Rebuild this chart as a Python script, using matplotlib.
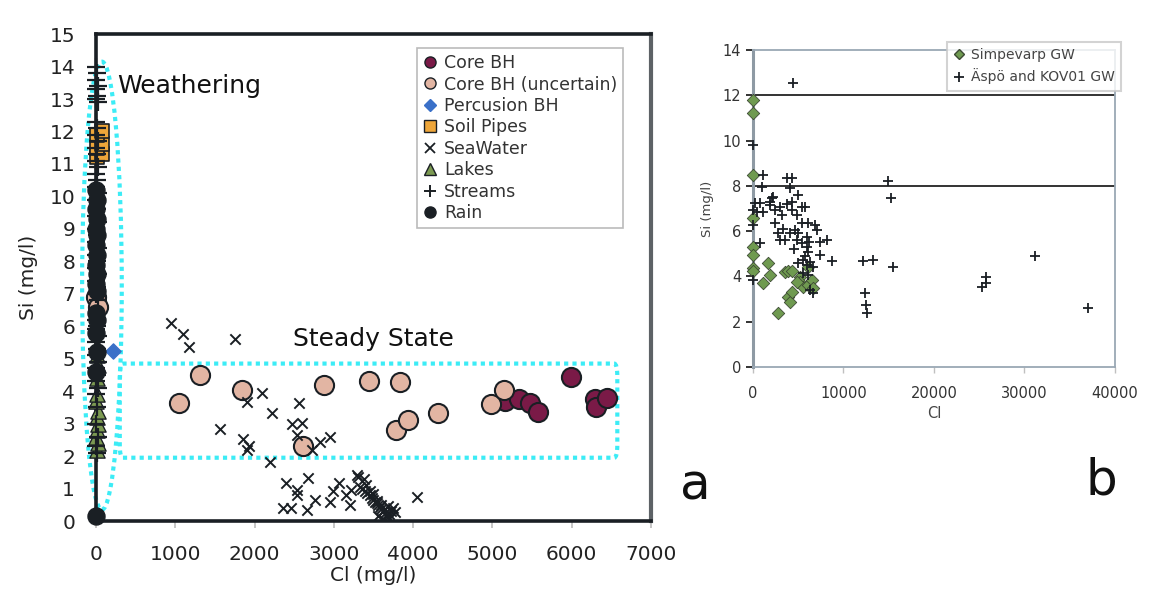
import numpy as np
import matplotlib
matplotlib.use("Agg")
import matplotlib.pyplot as plt
from matplotlib.patches import Ellipse, FancyBboxPatch
from matplotlib.lines import Line2D

# ---------------- panel a data ----------------
core_cl = [5160, 5330, 5480, 5580, 5990, 6290, 6310, 6440]
core_si = [3.70, 3.75, 3.65, 3.35, 4.45, 3.75, 3.50, 3.80]

coreu_cl = [1050, 1310, 1840, 2880, 3440, 3830, 2610, 3780, 3930, 4310, 4980, 5140, 0, 20]
coreu_si = [3.65, 4.50, 4.05, 4.20, 4.30, 4.28, 2.32, 2.80, 3.10, 3.32, 3.60, 4.05, 6.9, 6.6]

perc_cl = [210]
perc_si = [5.25]

soil_cl = [10, 70, 10, 70, 10, 70]
soil_si = [11.2, 11.3, 11.5, 11.6, 11.9, 12.0]

sea_cl = [950, 1100, 1170, 1750, 1560, 1860, 1910, 1930, 2100, 1910, 2220, 2560, 2470,
          2600, 2530, 2730, 2820, 2950, 2200,
          2400, 2530, 2670, 2540, 2360, 2460, 2660, 2760, 2950, 3070, 3200, 3300,
          3290, 3220, 3330, 3360, 3390, 3420, 3450, 3480, 3500, 3520, 3540, 3560, 3580,
          3600, 3620, 3640, 3660, 3680, 3700, 3720, 3650, 3600, 3550, 3500, 3450, 3400,
          3380, 3700, 3560, 3620, 3770, 4050, 3150, 2990, 3740, 3680]
sea_si = [6.10, 5.77, 5.37, 5.60, 2.84, 2.53, 2.19, 2.30, 3.95, 3.67, 3.33, 3.64, 2.99,
          3.02, 2.65, 2.19, 2.44, 2.60, 1.82,
          1.17, 0.96, 1.33, 0.80, 0.40, 0.40, 0.34, 0.65, 0.59, 1.17, 0.50, 1.36,
          1.42, 0.96, 1.05, 1.00, 0.92, 0.85, 0.80, 0.72, 0.66, 0.60, 0.55, 0.48, 0.42,
          0.36, 0.30, 0.24, 0.18, 0.12, 0.22, 0.30, 0.38, 0.48, 0.62, 0.82, 0.92, 1.10,
          1.28, 0.05, 0.16, 0.06, 0.28, 0.74, 0.80, 0.92, 0.40, 0.45]

lakes_cl = [10, 20, 5, 15, 25, 10, 20, 5, 15, 10, 20, 10, 15]
lakes_si = [2.2, 2.4, 2.6, 2.8, 3.0, 3.2, 3.4, 3.7, 3.9, 4.4, 4.8, 5.1, 5.4]

streams_cl = [0, 10, 0, 20, 0, 10, 0, 20, 0, 10, 0, 20, 0, 10, 0, 20, 0, 10, 0, 20,
              0, 10, 0, 20, 0, 10, 0, 20, 0, 10, 0, 20, 0, 10, 0, 20, 0, 10, 0, 20,
              0, 10, 0, 20, 0, 10, 0, 20, 0, 10, 0, 20, 0, 10]
streams_si = [14.0, 13.8, 13.6, 13.4, 13.3, 13.1, 13.0, 12.9, 12.3, 12.1, 11.9, 11.7,
              11.5, 11.3, 11.1, 10.9, 10.7, 10.5, 10.3, 10.1, 9.9, 9.6, 9.4, 9.2, 9.0,
              8.8, 8.6, 8.4, 8.2, 8.0, 7.8, 7.6, 7.4, 7.2, 7.0, 6.8, 6.2, 6.0, 5.9, 5.7,
              5.5, 5.3, 5.1, 4.9, 4.7, 4.5, 4.3, 4.1, 3.9, 3.5, 3.0, 2.6, 2.3, 2.1]

rain_cl = [0, 10, 0, 10, 0, 10, 0, 10, 0, 10, 0, 10, 0, 10, 0, 10, 0, 0]
rain_si = [10.2, 9.9, 9.6, 9.3, 9.0, 8.8, 8.5, 8.2, 7.9, 7.6, 7.3, 7.1, 6.4, 6.2, 5.8,
           5.2, 4.6, 0.15]

# ---------------- panel b data ----------------
simp_cl = [0, 0, 0, 0, 0, 0, 0, 0, 1100, 1660, 1880, 2760, 3540, 3870, 4310, 3870,
           4090, 4310, 5190, 5190, 5520, 6080, 6520, 6630, 6080, 4860]
simp_si = [11.8, 11.2, 8.5, 6.6, 5.3, 4.95, 4.37, 4.25, 3.7, 4.6, 4.06, 2.38, 4.2, 4.25,
           4.25, 3.1, 2.87, 3.33, 3.98, 3.76, 3.55, 3.62, 3.85, 3.48, 4.4, 3.76]

aspo_cl = [4420, 14920, 15250, 8730, 12150, 13260, 15470, 12380, 12490, 12600, 25300,
           25750, 25700, 31160, 37020,
           0, 1100, 990, 3760, 4300, 4090, 4970, 2100, 770, 1880, 2210, 4310, 5410,
           400, 1100, 1880, 2430, 2990, 3200, 3760, 4310, 4860, 5750, 5410, 6080, 6850,
           7070, 2430, 2760, 2990, 3540, 4090, 4640, 4860, 5410, 5970, 5970, 6080, 6300,
           5970, 7400, 8180, 7400, 6630, 5520, 4970, 5520, 6080, 6630, 6300, 770, 0, 0,
           0, 220, 3300, 5000, 6200, 4500, 5800]
aspo_si = [12.55, 8.2, 7.45, 4.68, 4.68, 4.73, 4.43, 3.27, 2.74, 2.40, 3.55,
           3.96, 3.70, 4.90, 2.60,
           9.8, 8.5, 7.95, 8.35, 8.35, 7.9, 7.6, 7.45, 7.24, 7.29, 7.5, 7.29, 7.07,
           6.85, 6.85, 7.15, 6.95, 7.07, 6.7, 7.2, 6.95, 6.7, 7.07, 6.35, 6.35, 6.27,
           6.05, 6.35, 5.9, 5.6, 5.6, 5.9, 6.05, 5.6, 5.47, 5.74, 5.3, 5.08, 4.64,
           4.5, 5.52, 5.6, 4.95, 4.42, 4.73, 4.6, 4.15, 4.06, 3.27, 3.4, 5.47, 3.84, 6.27,
           6.93, 7.24, 6.1, 5.9, 5.5, 5.2, 4.9]

cyan = "#3cecf6"
dark = "#1a1f24"

fig = plt.figure(figsize=(11.51, 5.96), dpi=100)

# ================= panel a =================
ax = fig.add_axes([0.0834, 0.1258, 0.4822, 0.817])
ax.set_xlim(0, 7000)
ax.set_ylim(0, 15)

ax.scatter(core_cl, core_si, s=190, c="#7a1a47", edgecolors=dark, linewidths=1.5, zorder=3)
ax.scatter(coreu_cl, coreu_si, s=190, c="#e2b5a3", edgecolors=dark, linewidths=1.5,
           zorder=3, clip_on=False)
ax.scatter(perc_cl, perc_si, s=60, marker="D", c="#3a70c8", edgecolors="#3a70c8",
           zorder=4, clip_on=False)
ax.scatter(soil_cl, soil_si, s=110, marker="s", c="#eea63a", edgecolors=dark,
           linewidths=1.2, zorder=4, clip_on=False)
ax.scatter(sea_cl, sea_si, s=55, marker="x", c=dark, linewidths=1.4, zorder=5)
ax.scatter(lakes_cl, lakes_si, s=120, marker="^", c="#7c9a52", edgecolors=dark,
           linewidths=1.0, zorder=5, clip_on=False)
ax.scatter(streams_cl, streams_si, s=150, marker="+", c=dark, linewidths=1.6, zorder=6,
           clip_on=False)
ax.scatter(rain_cl, rain_si, s=150, c=dark, edgecolors=dark, zorder=7, clip_on=False)

ax.add_patch(Ellipse((75, 7.25), 500, 13.8, fill=False, edgecolor=cyan, lw=3,
                     linestyle=(0, (1, 1)), clip_on=False, zorder=2))
ax.add_patch(FancyBboxPatch((300, 1.95), 6275, 2.9, boxstyle="round,pad=0,rounding_size=40",
                            fill=False, edgecolor=cyan, lw=3, linestyle=(0, (1, 1)),
                            mutation_aspect=0.01, zorder=2))

ax.text(265, 13.4, "Weathering", fontsize=18, va="center", ha="left", color="#111111")
ax.text(2485, 5.6, "Steady State", fontsize=18, va="center", ha="left", color="#111111")

ax.set_xticks(np.arange(0, 7001, 1000))
ax.set_yticks(np.arange(0, 16, 1))
ax.tick_params(axis="y", length=0, labelsize=14.5, pad=15, labelcolor="#222222")
ax.tick_params(axis="x", length=5, width=1.2, color="#bbbbbb", labelsize=14.5, pad=12,
               labelcolor="#222222")
for side in ["top", "bottom", "left"]:
    ax.spines[side].set_linewidth(2.6)
    ax.spines[side].set_color(dark)
ax.spines["right"].set_linewidth(3)
ax.spines["right"].set_color("#5d6266")
ax.set_xlabel("Cl (mg/l)", fontsize=14.5, color="#222222", labelpad=2)
ax.set_ylabel("Si (mg/l)", fontsize=14.5, color="#222222", labelpad=8)

handles = [
    Line2D([], [], ls="", marker="o", ms=8, mfc="#7a1a47", mec=dark),
    Line2D([], [], ls="", marker="o", ms=8, mfc="#e2b5a3", mec=dark),
    Line2D([], [], ls="", marker="D", ms=6, mfc="#3a70c8", mec="#3a70c8"),
    Line2D([], [], ls="", marker="s", ms=8, mfc="#eea63a", mec=dark),
    Line2D([], [], ls="", marker="x", ms=7, color=dark, mew=1.3),
    Line2D([], [], ls="", marker="^", ms=8, mfc="#7c9a52", mec=dark),
    Line2D([], [], ls="", marker="+", ms=9, color=dark, mew=1.4),
    Line2D([], [], ls="", marker="o", ms=8, mfc=dark, mec=dark),
]
labels = ["Core BH", "Core BH (uncertain)", "Percusion BH", "Soil Pipes", "SeaWater",
          "Lakes", "Streams", "Rain"]
leg = ax.legend(handles, labels, loc="upper left", bbox_to_anchor=(0.3623, 0.9195),
                bbox_transform=fig.transFigure, fontsize=12.5, frameon=True, fancybox=False,
                handlelength=0.8, handletextpad=0.4, labelspacing=0.2, borderpad=0.35,
                borderaxespad=0)
leg.get_frame().set_edgecolor("#aaaaaa")
leg.get_frame().set_linewidth(1.2)
for t in leg.get_texts():
    t.set_color("#333333")

fig.text(0.604, 0.185, "a", fontsize=36, ha="center", va="center", color="#111111")

# ================= panel b =================
bx = fig.add_axes([0.6542, 0.3842, 0.3145, 0.532])
bx.set_xlim(0, 40000)
bx.set_ylim(0, 14)
bx.axhline(8, color="#111111", lw=1.2, zorder=1)
bx.axhline(12, color="#111111", lw=1.2, zorder=1)
bx.scatter(simp_cl, simp_si, s=40, marker="D", c="#6f9a50", edgecolors="#3d4a34",
           linewidths=0.6, zorder=3, clip_on=False)
bx.scatter(aspo_cl, aspo_si, s=55, marker="+", c=dark, linewidths=1.3, zorder=4,
           clip_on=False)

bx.set_xticks(np.arange(0, 40001, 10000))
bx.set_yticks(np.arange(0, 15, 2))
bx.tick_params(axis="y", length=5, width=1.2, color="#111111", labelsize=10.5,
               labelcolor="#333333")
bx.tick_params(axis="x", length=4, width=1, color="#c0c0c0", labelsize=10.5, pad=10,
               labelcolor="#333333")
bx.spines["left"].set_color("#8e9aa4")
bx.spines["left"].set_linewidth(2.2)
for side in ["bottom", "right", "top"]:
    bx.spines[side].set_color("#9aa8b4")
    bx.spines[side].set_linewidth(1.3)
bx.set_xlabel("Cl", fontsize=10.5, color="#444444", labelpad=3)
bx.set_ylabel("Si (mg/l)", fontsize=9.5, color="#444444", labelpad=6)

hb = [Line2D([], [], ls="", marker="D", ms=5, mfc="#6f9a50", mec="#3d4a34"),
      Line2D([], [], ls="", marker="+", ms=7, color=dark, mew=1.3)]
legb = bx.legend(hb, ["Simpevarp GW", "Äspö and KOV01 GW"], loc="upper left",
                 bbox_to_anchor=(0.8228, 0.9295), bbox_transform=fig.transFigure,
                 fontsize=10, frameon=True, fancybox=False, handlelength=0.8,
                 handletextpad=0.5, borderpad=0.45, labelspacing=0.45, borderaxespad=0)
legb.get_frame().set_edgecolor("#c8c8c8")
legb.get_frame().set_linewidth(1.5)
for t in legb.get_texts():
    t.set_color("#444444")

fig.text(0.9566, 0.193, "b", fontsize=36, ha="center", va="center", color="#111111")

fig.savefig("out.png", dpi=100, facecolor="white")
